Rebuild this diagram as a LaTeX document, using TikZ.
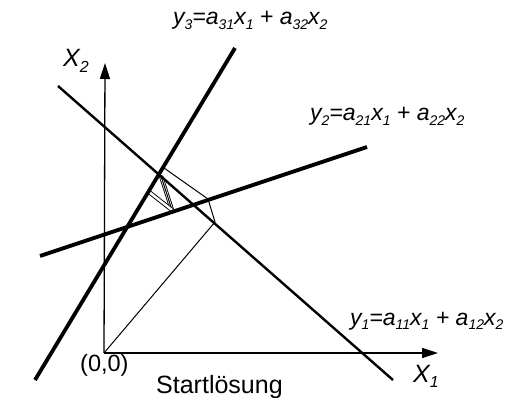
\documentclass[tikz,border=0pt]{standalone}
\usepackage{fontspec}
\setmainfont{Liberation Sans}
\usetikzlibrary{arrows.meta}
\newcommand{\sbs}[1]{\raisebox{-0.35ex}{\fontsize{14}{14}\selectfont #1}}
\newcommand{\sbX}[1]{\raisebox{-0.4ex}{\fontsize{16}{16}\selectfont #1}}
\begin{document}
\begin{tikzpicture}[x=1pt,y=-1pt,
  thickline/.style={line width=3.8pt},
  medline/.style={line width=2.4pt},
  axisline/.style={line width=1.3pt,-{Triangle[length=16pt,width=10pt]}},
  thinline/.style={line width=1pt},
  twoline/.style={double,double distance=2.4pt,line width=0.9pt},
  eq/.style={font=\fontsize{23}{23}\selectfont\itshape,inner sep=0pt,anchor=base west},
  axlbl/.style={font=\fontsize{25}{25}\selectfont\itshape,inner sep=0pt,anchor=base west},
  txt/.style={inner sep=0pt,anchor=base west}]
\useasboundingbox (0,0) rectangle (522,398);
% coordinates
\coordinate (O) at (104,353);
\coordinate (xend) at (438,353);
\coordinate (yend) at (105,63);
\coordinate (y3a) at (35,380);
\coordinate (y3b) at (235,48);
\coordinate (y2a) at (40,256);
\coordinate (y2b) at (367,147);
\coordinate (y1a) at (58,86);
\coordinate (y1b) at (393,380);
\coordinate (A) at (215,222);
\coordinate (B) at (208,199);
\coordinate (C) at (164,168);
\coordinate (P) at (149,192);
\coordinate (Q) at (161,176);
\coordinate (R) at (172,210);
% axes
\draw[axisline] (O) -- (xend);
\draw[axisline] (O) -- (yend);
% iteration path
\draw[thinline] (O) -- (A) -- (B) -- (C);
\draw[twoline] (Q) -- (R);
\draw[thinline] (Q) -- (R);
\draw[twoline] (P) -- (R);
% constraint lines
\draw[medline] (y1a) -- (y1b);
\draw[thickline] (y3a) -- (y3b);
\draw[thickline] (y2a) -- (y2b);
% labels
\node[eq] (l3) at (173,25) {y\sbs{3}=a\sbs{31}x\sbs{1} + a\sbs{32}x\sbs{2}};
\node[eq] (l2) at (310,121) {y\sbs{2}=a\sbs{21}x\sbs{1} + a\sbs{22}x\sbs{2}};
\node[eq] (l1) at (350,325) {y\sbs{1}=a\sbs{11}x\sbs{1} + a\sbs{12}x\sbs{2}};
\node[axlbl] (X2) at (63,67) {X\sbX{2}};
\node[axlbl] (X1) at (413,382) {X\sbX{1}};
\node[txt,font=\fontsize{23.5}{23.5}\selectfont] (orig) at (80,371) {(0,0)};
\node[txt,font=\fontsize{25}{25}\selectfont] (start) at (156,393) {Startlösung};
\end{tikzpicture}
\end{document}
